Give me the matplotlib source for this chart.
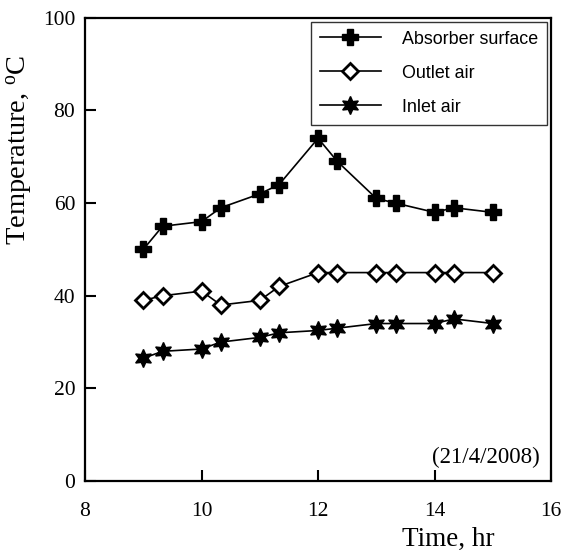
import matplotlib.pyplot as plt
import numpy as np

# time of day, hr
time_hr = [9, 9.33, 10, 10.33, 11, 11.33, 12, 12.33, 13, 13.33, 14, 14.33, 15]

absorber = [50, 55, 56, 59, 62, 64, 74, 69, 61, 60, 58, 59, 58]
outlet = [39, 40, 41, 38, 39, 42, 45, 45, 45, 45, 45, 45, 45]
inlet = [26.5, 28, 28.5, 30, 31, 32, 32.5, 33, 34, 34, 34, 35, 34]

labels = ['Absorber surface', 'Outlet air', 'Inlet air']
xticks = [8, 10, 12, 14, 16]
yticks = [0, 20, 40, 60, 80, 100]

serif = 'Liberation Serif'
sans = 'Liberation Sans'

fig = plt.figure(figsize=(5.63, 5.58), dpi=100)
ax = fig.add_axes([0.151, 0.138, 0.828, 0.830])

ax.plot(time_hr, absorber, color='black', lw=1.2, marker='P', ms=11.5,
        mfc='black', mec='black', label=labels[0])
ax.plot(time_hr, outlet, color='black', lw=1.2, marker='D', ms=8,
        mfc='white', mec='black', mew=2, label=labels[1])
ax.plot(time_hr, inlet, color='black', lw=1.2, marker=(6, 1, 0), ms=13,
        mfc='black', mec='black', label=labels[2])

ax.set_xlim(8, 16)
ax.set_ylim(0, 100)
ax.set_xticks(xticks)
ax.set_yticks(yticks)

for s in ax.spines.values():
    s.set_linewidth(1.6)
ax.tick_params(direction='in', length=8, width=1.5, top=False, right=False)
ax.tick_params(axis='x', pad=15)
ax.tick_params(axis='y', pad=7)
for t in ax.get_xticklabels() + ax.get_yticklabels():
    t.set_fontfamily(serif)
    t.set_fontsize(15.5)

ax.set_xlabel('Time, hr', fontfamily=serif, fontsize=19.5)
ax.xaxis.set_label_coords(0.779, -0.1)
ax.set_ylabel('Temperature, $\\mathregular{^{o}}$C', fontfamily=serif, fontsize=20.5)
ax.yaxis.set_label_coords(-0.107, 0.715)

ax.text(0.976, 0.05, '(21/4/2008)', transform=ax.transAxes, ha='right',
        va='center', fontfamily=serif, fontsize=16.5)

leg = ax.legend(loc='upper right', bbox_to_anchor=(0.992, 0.992),
                prop={'family': sans, 'size': 12.9}, frameon=True,
                fancybox=False, handlelength=3.4, handletextpad=1.2,
                labelspacing=0.95, borderpad=0.5, borderaxespad=0)
leg.get_frame().set_edgecolor('black')
leg.get_frame().set_linewidth(1.0)

fig.savefig('out.png', dpi=100)
